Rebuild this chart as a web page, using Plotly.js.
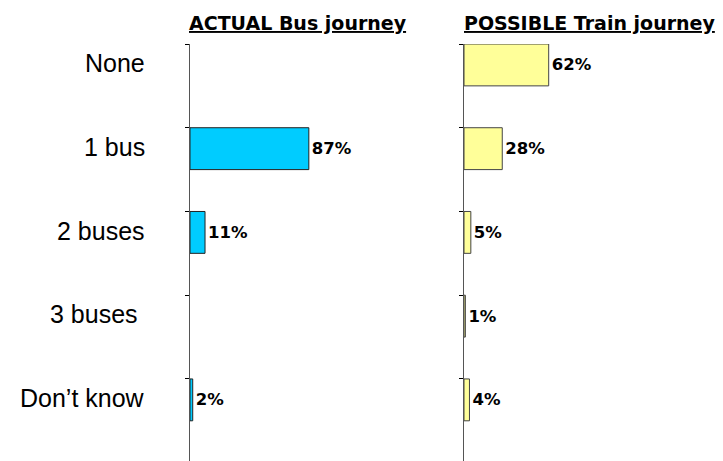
<!DOCTYPE html>
<html>
<head>
<meta charset="utf-8">
<script src="https://cdn.plot.ly/plotly-3.0.1.min.js"></script>
<style>html,body{margin:0;padding:0;background:#fff;}#chart{width:723px;height:461px;}</style>
</head>
<body>
<div id="chart"></div>
<script>
const categories = ["None", "1 bus", "2 buses", "3 buses", "Don\u2019t know"];
const categoryLabels = ["None", "1 bus", "2 buses", "3 buses\u00a0", "Don\u2019t know"];
const busValues = [null, 87, 11, null, 2];
const trainValues = [62, 28, 5, 1, 4];
const panelTitles = ["ACTUAL Bus journey", "POSSIBLE Train journey"];

const W = 723, H = 461, T = 44;
const px = p => p / W;
const py = p => (H - p) / (H - T);

const barBase = {
  type: 'bar', orientation: 'h', y: categories,
  width: 0.5, offset: -0.5,
  textposition: 'outside', cliponaxis: false,
  texttemplate: '%{x}%',
  textfont: {family: 'DejaVu Sans', size: 16.5, color: '#000', weight: 'bold'},
  hoverinfo: 'none', showlegend: false
};

const traces = [
  Object.assign({}, barBase, {
    x: busValues, xaxis: 'x', yaxis: 'y',
    marker: {color: '#00CCFF', line: {color: '#222', width: 1}}
  }),
  Object.assign({}, barBase, {
    x: trainValues, xaxis: 'x2', yaxis: 'y2',
    marker: {color: '#FFFF99', line: {color: '#444', width: 1}}
  })
];

const xBase = {range: [0, 100], showgrid: false, zeroline: false, showline: false, showticklabels: false, ticks: ''};
const yBase = {
  type: 'category', categoryarray: categories, categoryorder: 'array',
  range: [4.48, -0.5], showgrid: false, zeroline: false,
  showline: true, linecolor: '#555', linewidth: 1,
  ticks: 'outside', tickson: 'boundaries', ticklen: 4, tickcolor: '#000', tickwidth: 1,
  showticklabels: false
};

const annotations = [];
categoryLabels.forEach((c, i) => annotations.push({
  text: c, xref: 'paper', x: px(147), xanchor: 'right',
  yref: 'y', y: i - 0.27, yanchor: 'middle', showarrow: false,
  font: {family: 'Liberation Sans, Arial', size: 25, color: '#000'}
}));
const titleX = [298, 589.5];
panelTitles.forEach((t, i) => annotations.push({
  text: '<u>' + t + '</u>', xref: 'paper', x: px(titleX[i]), xanchor: 'center',
  yref: 'paper', y: py(23), yanchor: 'middle', showarrow: false,
  font: {family: 'DejaVu Sans', size: 19, color: '#000', weight: 'bold'}
}));

const layout = {
  width: W, height: H,
  margin: {l: 0, r: 0, t: T, b: 0, pad: 0},
  paper_bgcolor: '#fff', plot_bgcolor: '#fff',
  barmode: 'overlay',
  xaxis: Object.assign({}, xBase, {domain: [px(190), px(190 + 136.6)], anchor: 'y'}),
  xaxis2: Object.assign({}, xBase, {domain: [px(464), px(464 + 136.6)], anchor: 'y2'}),
  yaxis: Object.assign({}, yBase, {anchor: 'x'}),
  yaxis2: Object.assign({}, yBase, {anchor: 'x2'}),
  annotations: annotations
};

Plotly.newPlot('chart', traces, layout, {displayModeBar: false, staticPlot: true});
</script>
</body>
</html>
